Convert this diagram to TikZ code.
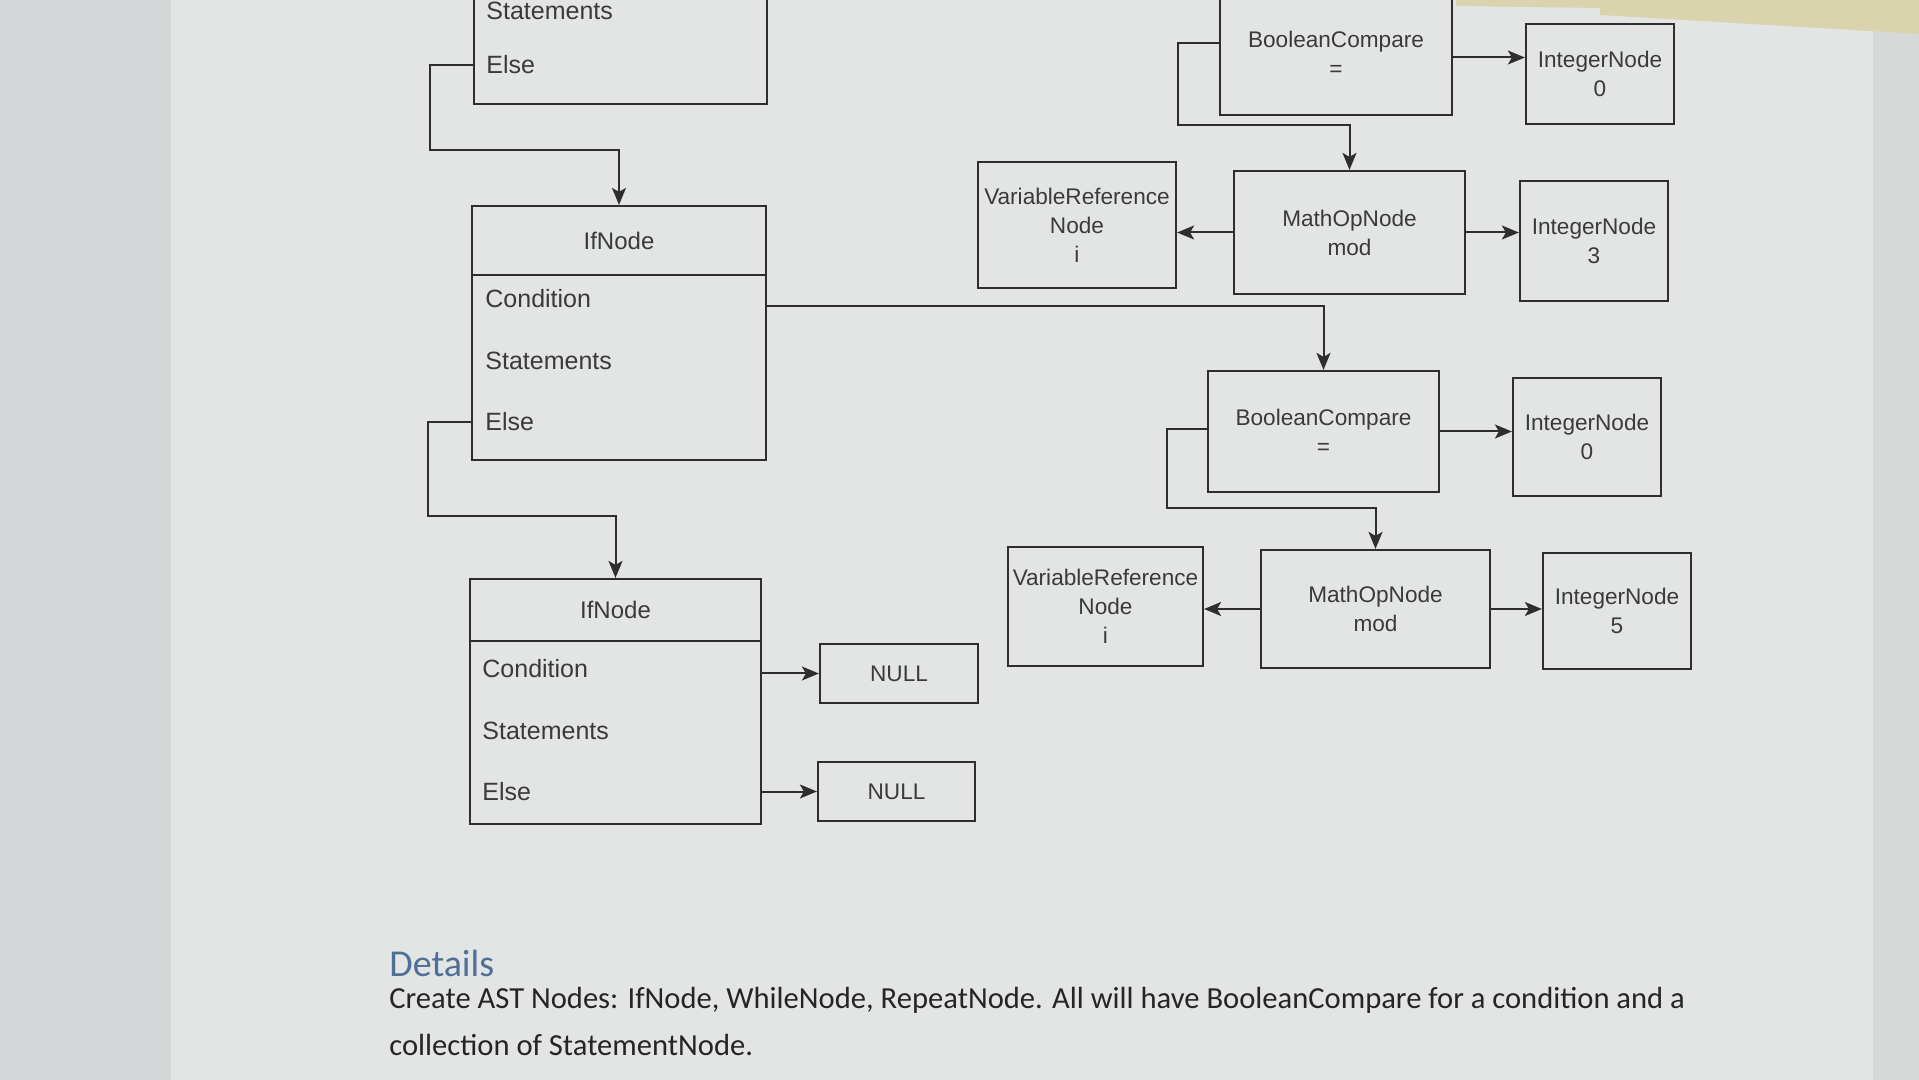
\documentclass[tikz,border=0pt]{standalone}
\usepackage{fontspec}
\setmainfont{Liberation Sans}
\newfontfamily\calib{Carlito}
\usetikzlibrary{arrows.meta,calc}
\definecolor{pagebg}{HTML}{E2E5E4}
\definecolor{stripbg}{HTML}{D4D7D7}
\definecolor{rightbg}{HTML}{D6D9D8}
\definecolor{topbar}{HTML}{D9D4AE}
\definecolor{inkline}{HTML}{2E2E2E}
\definecolor{inktext}{HTML}{3A3A3A}
\definecolor{headblue}{HTML}{4E7098}
\definecolor{bodytext}{HTML}{252525}
\begin{document}
\begin{tikzpicture}[x=0.5pt,y=-0.5pt,
 box/.style={draw=inkline, line width=1.1pt, inner sep=0pt, text=inktext, align=center, font=\fontsize{11.3}{14.5}\selectfont},
 headbox/.style={box, font=\fontsize{12}{14}\selectfont},
 rowtext/.style={anchor=west, inner sep=0pt, text=inktext, font=\fontsize{12.5}{15}\selectfont},
 conn/.style={draw=inkline, line width=1pt, -{Stealth[length=8.5pt,width=7pt,inset=2pt]}},
]
\useasboundingbox (0,0) rectangle (1919,1080);
\fill[pagebg] (0,0) rectangle (1919,1080);
\fill[stripbg] (0,0) rectangle (171,1080);
\fill[rightbg] (1873,0) rectangle (1919,1080);
\fill[topbar] (1456,0) -- (1919,0) -- (1919,34) -- (1600,15) -- (1600,8) -- (1456,6) -- cycle;
\begin{scope}
\clip (0,0) rectangle (1919,1080);
% left column
\node[box, minimum width=146.5pt, minimum height=72pt] (if1) at (620.5,32) {};
\node[rowtext] (if1-stmts) at (486,11) {Statements};
\node[rowtext] (if1-else) at (486,65) {Else};

\node[headbox, minimum width=147pt, minimum height=34.5pt] (if2h) at (619,240.5) {IfNode};
\node[box, minimum width=147pt, minimum height=92.5pt] (if2b) at (619,367.5) {};
\node[rowtext] (if2-cond) at (485,299) {Condition};
\node[rowtext] (if2-stmts) at (485,361) {Statements};
\node[rowtext] (if2-else) at (485,422) {Else};

\node[headbox, minimum width=145.5pt, minimum height=31pt] (if3h) at (615.5,610) {IfNode};
\node[box, minimum width=145.5pt, minimum height=91.5pt] (if3b) at (615.5,732.5) {};
\node[rowtext] (if3-cond) at (482,669) {Condition};
\node[rowtext] (if3-stmts) at (482,731) {Statements};
\node[rowtext] (if3-else) at (482,792) {Else};

\node[box, minimum width=79pt, minimum height=29.5pt] (null1) at (899,673.5) {NULL};
\node[box, minimum width=78.5pt, minimum height=29.5pt] (null2) at (896.5,791.5) {NULL};

% right: first condition
\node[box, minimum width=116pt, minimum height=61.5pt] (bc1) at (1336,53.5) {BooleanCompare\\=};
\node[box, minimum width=74pt, minimum height=50pt] (int0a) at (1600,74) {IntegerNode\\0};
\node[box, minimum width=99pt, minimum height=63pt] (var1) at (1077,225) {VariableReference\\Node\\i};
\node[box, minimum width=115.5pt, minimum height=61.5pt] (math1) at (1349.5,232.5) {MathOpNode\\mod};
\node[box, minimum width=74pt, minimum height=60pt] (int3) at (1594,241) {IntegerNode\\3};

% right: second condition
\node[box, minimum width=115.5pt, minimum height=60.5pt] (bc2) at (1323.5,431.5) {BooleanCompare\\=};
\node[box, minimum width=74pt, minimum height=59pt] (int0b) at (1587,437) {IntegerNode\\0};
\node[box, minimum width=97.5pt, minimum height=59.5pt] (var2) at (1105.5,606.5) {VariableReference\\Node\\i};
\node[box, minimum width=114.5pt, minimum height=59pt] (math2) at (1375.5,609) {MathOpNode\\mod};
\node[box, minimum width=74pt, minimum height=58pt] (int5) at (1617,611) {IntegerNode\\5};

% bend points
\coordinate (c1) at (430,150);
\coordinate (c2) at (428,516);
\coordinate (c3) at (1178,125);
\coordinate (c4) at (1167,508);

% connectors
\draw[conn] (if1.west |- if1-else) -| (c1) -| (if2h.north);
\draw[conn] (if2b.west |- if2-else) -| (c2) -| (if3h.north);
\draw[conn] ($(if2b.east |- if2-cond)+(0,7)$) -| (bc2.north);
\draw[conn] (if3b.east |- null1.west) -- (null1.west);
\draw[conn] (if3b.east |- null2.west) -- (null2.west);

\draw[conn] ($(bc1.west)+(0,-10)$) -| (c3) -| (math1.north);
\draw[conn] ($(bc1.east)+(0,4)$) -- ($(bc1.east -| int0a.west)+(0,4)$);
\draw[conn] (math1.west) -- (math1.west -| var1.east);
\draw[conn] (math1.east) -- (math1.east -| int3.west);

\draw[conn] ($(bc2.west)+(0,-2)$) -| (c4) -| (math2.north);
\draw[conn] (bc2.east) -- (bc2.east -| int0b.west);
\draw[conn] (math2.west) -- (math2.west -| var2.east);
\draw[conn] (math2.east) -- (math2.east -| int5.west);

% details text
\node[anchor=base west, inner sep=0pt, font=\calib\fontsize{19}{22}\selectfont, text=headblue] (dh) at (389,976) {Details};
\node[anchor=base west, inner sep=0pt, font=\calib\fontsize{15.3}{18}\selectfont, text=bodytext] (db1) at (389,1008) {Create AST Nodes: IfNode, WhileNode, RepeatNode. All will have BooleanCompare for a condition and a};
\node[anchor=base west, inner sep=0pt, font=\calib\fontsize{15.3}{18}\selectfont, text=bodytext] (db2) at (389,1055) {collection of StatementNode.};
\end{scope}
\end{tikzpicture}
\end{document}
